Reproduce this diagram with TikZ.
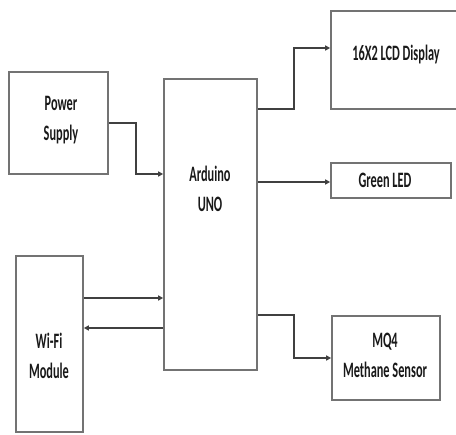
\documentclass[tikz,border=0pt]{standalone}
\usepackage{fontspec}
\setmainfont{Carlito}
\usepackage{graphicx}
\usetikzlibrary{arrows.meta}
\newcommand{\blabel}[1]{\scalebox{0.56}[1]{\begin{tabular}{@{}c@{}}#1\end{tabular}}}
\tikzset{
  blockbox/.style={draw=black!55, line width=1.6pt, minimum width=#1, inner sep=0pt},
  blocktext/.style={inner sep=0pt, text=black!90, font=\fontsize{22}{30}\selectfont\bfseries},
  conn/.style={draw=black!75, line width=1.3pt, -{Triangle[length=5pt,width=5pt]}},
}
\begin{document}
\begin{tikzpicture}[x=1pt,y=-1pt]
\useasboundingbox (0,0) rectangle (456,435);
% boxes
\node[blockbox=99pt, minimum height=102pt] (ps) at (58.5,123) {};
\node[blockbox=93pt, minimum height=291pt] (ard) at (210.5,224.5) {};
\node[blockbox=129pt, minimum height=98pt] (lcd) at (395.5,60) {};
\node[blockbox=120pt, minimum height=35pt] (led) at (391,180.5) {};
\node[blockbox=108pt, minimum height=84pt] (mq) at (386,358) {};
\node[blockbox=67pt, minimum height=176pt] (wifi) at (49.5,344) {};
% texts
\node[blocktext] (pst) at (61,120) {\blabel{Power\\Supply}};
\node[blocktext] (ardt) at (210,191) {\blabel{Arduino\\UNO}};
\node[blocktext] (lcdt) at (396,55) {\blabel{16X2 LCD Display}};
\node[blocktext] (ledt) at (385,182) {\blabel{Green LED}};
\node[blocktext] (mqt) at (385,357) {\blabel{MQ4\\Methane Sensor}};
\node[blocktext] (wifit) at (49,358) {\blabel{Wi-Fi\\Module}};
% connectors
\draw[conn] (ps.east) -- (136,123) |- (ard.west |- 0,174);
\draw[conn] (ard.east |- 0,109) -- (294,109) |- (lcd.west |- 0,48);
\draw[conn] (ard.east |- 0,182) -- (led.west |- 0,182);
\draw[conn] (ard.east |- 0,315) -- (294,315) |- (mq.west |- 0,358);
\draw[conn] (wifi.east |- 0,298) -- (ard.west |- 0,298);
\draw[conn] (ard.west |- 0,328) -- (wifi.east |- 0,328);
\end{tikzpicture}
\end{document}
